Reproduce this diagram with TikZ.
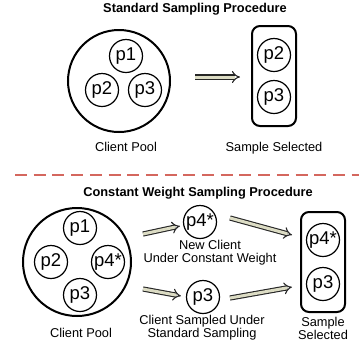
\documentclass[tikz,border=0pt]{standalone}
\usepackage{fontspec}
\setmainfont{Liberation Sans}
\usetikzlibrary{arrows.meta}
\definecolor{arrowfill}{HTML}{DCDCC4}
\definecolor{reddash}{HTML}{D4675E}
\begin{document}
\begin{tikzpicture}[x=1pt,y=-1pt,
  pc/.style={circle, draw, line width=1.2pt, minimum size=33pt, inner sep=0pt, font=\fontsize{18.5}{19}\selectfont},
  pool/.style={circle, draw, line width=2pt, inner sep=0pt},
  selbox/.style={draw, line width=2pt, rounded corners=8pt, minimum width=44pt, minimum height=100pt, inner sep=0pt},
  lbl/.style={font=\fontsize{12.8}{13.5}\selectfont, inner sep=0pt, anchor=base},
  ttl/.style={font=\fontsize{12.8}{14}\selectfont\bfseries, inner sep=0pt, anchor=base},
  fat/.style={draw=black!85, line width=1.1pt, double=arrowfill, double distance=3pt, -{Implies}},
  sep/.style={draw=reddash, line width=2.4pt, dash pattern=on 12pt off 6.7pt},
]
\useasboundingbox (0,0) rectangle (359,349);

% ---------- top: standard sampling ----------
\node[ttl] (t1) at (195,12) {Standard Sampling Procedure};
\node[pool, minimum size=102pt] (pool1) at (119,81) {};
\node[pc] (a1) at (126,56) {p1};
\node[pc] (a2) at (102,90) {p2};
\node[pc] (a3) at (145,90) {p3};
\node[lbl] (l1) at (126,151.6) {Client Pool};

\node[selbox] (s1) at (274,76) {};
\node[pc] (s1a) at (274,55) {p2};
\node[pc] (s1b) at (274,97) {p3};
\node[lbl] (l2) at (274,151.6) {Sample Selected};

\coordinate (ar1s) at (195,77);
\coordinate (ar1e) at (240,77);
\draw[fat] (ar1s) -- (ar1e);

% ---------- separator ----------
\coordinate (d0) at (15,175);
\coordinate (d1) at (359,175);
\draw[sep] (d0) -- (d1);

% ---------- bottom: constant weight sampling ----------
\node[ttl] (t2) at (198,196.6) {Constant Weight Sampling Procedure};
\node[pool, minimum size=108pt] (pool2) at (77,262) {};
\node[pc] (b1) at (80,228) {p1};
\node[pc] (b2) at (51,262) {p2};
\node[pc] (b4) at (108,262) {p4*};
\node[pc] (b3) at (80,295) {p3};
\node[lbl] (l3) at (81,337.6) {Client Pool};

\node[pc] (m4) at (200,222) {p4*};
\node[lbl] (l4a) at (210,249.6) {New Client};
\node[lbl] (l4b) at (210,262.6) {Under Constant Weight};

\node[pc] (m3) at (203,297) {p3};
\node[lbl] (l5a) at (202,324.6) {Client Sampled Under};
\node[lbl] (l5b) at (202,337.6) {Standard Sampling};

\node[selbox] (s2) at (323,262) {};
\node[pc] (s2a) at (323,240) {p4*};
\node[pc] (s2b) at (323,284) {p3};
\node[lbl] (l6a) at (323,326.6) {Sample};
\node[lbl] (l6b) at (323,339.6) {Selected};

\coordinate (c1s) at (143,234);
\coordinate (c1e) at (180,226);
\coordinate (c2s) at (230,218);
\coordinate (c2e) at (292,235);
\coordinate (c3s) at (143,289);
\coordinate (c3e) at (181,296);
\coordinate (c4s) at (230,298);
\coordinate (c4e) at (292,287);
\draw[fat] (c1s) -- (c1e);
\draw[fat] (c2s) -- (c2e);
\draw[fat] (c3s) -- (c3e);
\draw[fat] (c4s) -- (c4e);
\end{tikzpicture}
\end{document}
